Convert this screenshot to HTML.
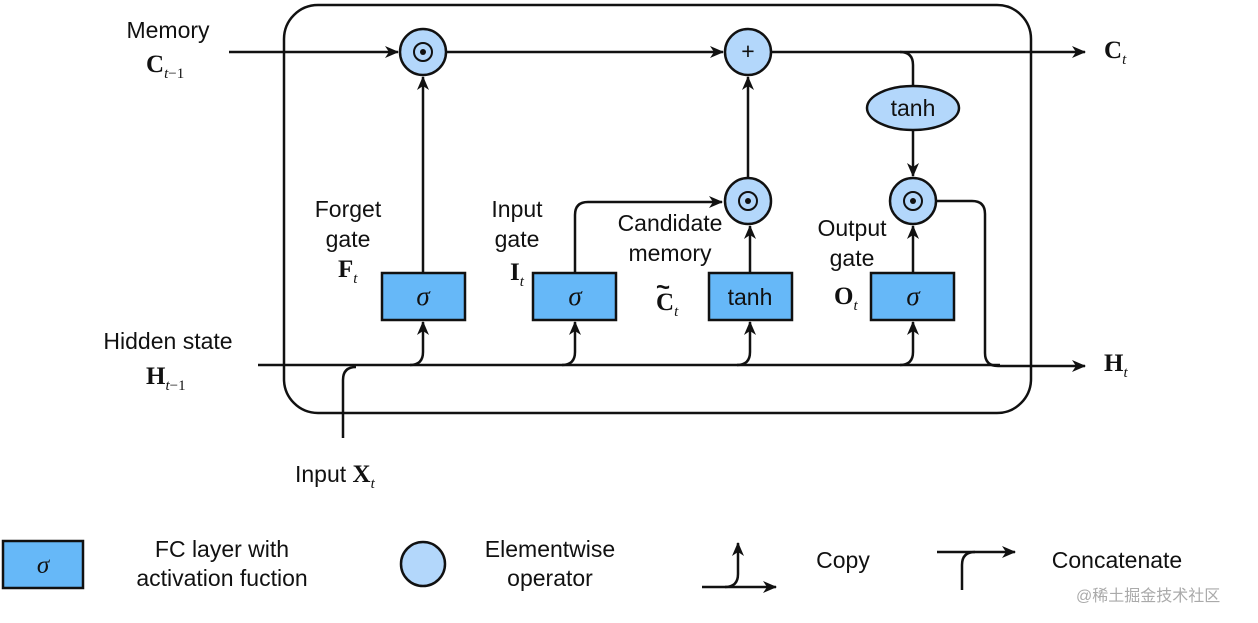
<!DOCTYPE html>
<html><head><meta charset="utf-8"><style>
html,body{margin:0;padding:0;background:#fff;}
svg{display:block;}
text{font-family:"Liberation Sans",sans-serif;fill:#111;}
.b{font-family:"Liberation Serif",serif;font-weight:bold;}
.i{font-family:"Liberation Serif",serif;font-style:italic;font-weight:normal;}
</style></head><body>
<svg width="1258" height="623" viewBox="0 0 1258 623" xmlns="http://www.w3.org/2000/svg">
<defs>
<marker id="a" markerWidth="14" markerHeight="12" refX="13" refY="6" orient="auto" markerUnits="userSpaceOnUse">
<path d="M0,0 L14,6 L0,12 L4,6 Z" fill="#111"/></marker>
</defs>
<g fill="none" stroke="#111" stroke-width="2.5">
<rect x="284" y="5" width="747" height="408" rx="34"/>
<path d="M229,52 H398" marker-end="url(#a)"/>
<path d="M446,52 H723" marker-end="url(#a)"/>
<path d="M771,52 H1085" marker-end="url(#a)"/>
<path d="M900,52 Q913,52 913,65 V86"/>
<path d="M913,130 V176" marker-end="url(#a)"/>
<path d="M423,273 V77" marker-end="url(#a)"/>
<path d="M575,273 V215 Q575,202 588,202 H722" marker-end="url(#a)"/>
<path d="M750,273 V226" marker-end="url(#a)"/>
<path d="M748,178 V77" marker-end="url(#a)"/>
<path d="M913,273 V226" marker-end="url(#a)"/>
<path d="M258,365 H1000"/>
<path d="M343,438 V380 Q343,367 356,367"/>
<path d="M410,365 Q423,365 423,352 V322" marker-end="url(#a)"/>
<path d="M562,365 Q575,365 575,352 V322" marker-end="url(#a)"/>
<path d="M737,365 Q750,365 750,352 V322" marker-end="url(#a)"/>
<path d="M900,365 Q913,365 913,352 V322" marker-end="url(#a)"/>
<path d="M937,201 H972 Q985,201 985,214 V353 Q985,366 998,366 H1085" marker-end="url(#a)"/>
<path d="M702,587 H776" marker-end="url(#a)"/>
<path d="M725,587 Q738,587 738,574 V543" marker-end="url(#a)"/>
<path d="M937,552 H1015" marker-end="url(#a)"/>
<path d="M975,552 Q962,552 962,565 V590"/>
</g>
<g stroke="#111" stroke-width="2.5" fill="#b3d7fb">
<circle cx="423" cy="52" r="23"/>
<circle cx="748" cy="52" r="23"/>
<circle cx="748" cy="201" r="23"/>
<circle cx="913" cy="201" r="23"/>
<ellipse cx="913" cy="108" rx="46" ry="22"/>
<circle cx="423" cy="564" r="22" />
</g>
<g fill="#111">
<circle cx="423" cy="52" r="3"/><circle cx="748" cy="201" r="3"/><circle cx="913" cy="201" r="3"/>
</g>
<g fill="none" stroke="#111" stroke-width="2">
<circle cx="423" cy="52" r="9"/><circle cx="748" cy="201" r="9"/><circle cx="913" cy="201" r="9"/>
</g>
<g stroke="#111" stroke-width="2.5" fill="#66b8f8">
<rect x="382" y="273" width="83" height="47"/>
<rect x="533" y="273" width="83" height="47"/>
<rect x="709" y="273" width="83" height="47"/>
<rect x="871" y="273" width="83" height="47"/>
<rect x="3" y="541" width="80" height="47"/>
</g>
<g font-size="23" text-anchor="middle">
<text x="748" y="59">+</text>
<text x="423" y="305" class="i" font-size="27">σ</text>
<text x="575" y="305" class="i" font-size="27">σ</text>
<text x="750" y="305">tanh</text>
<text x="913" y="305" class="i" font-size="27">σ</text>
<text x="43" y="573" class="i" font-size="25">σ</text>
<text x="913" y="116">tanh</text>
<text x="168" y="38">Memory</text>
<text x="348" y="217">Forget</text><text x="348" y="247">gate</text>
<text x="517" y="217">Input</text><text x="517" y="247">gate</text>
<text x="670" y="231">Candidate</text><text x="670" y="261">memory</text>
<text x="852" y="236">Output</text><text x="852" y="266">gate</text>
<text x="168" y="349">Hidden state</text>
<text x="222" y="557">FC layer with</text><text x="222" y="586">activation fuction</text>
<text x="550" y="557">Elementwise</text><text x="550" y="586">operator</text>
<text x="843" y="568">Copy</text>
<text x="1117" y="568">Concatenate</text>
</g>
<g font-size="25" class="b">
<text x="146" y="72" class="b">C<tspan class="i" font-size="15" dy="6">t</tspan><tspan font-size="15" font-weight="normal">−1</tspan></text>
<text x="338" y="277" class="b">F<tspan class="i" font-size="15" dy="6">t</tspan></text>
<text x="510" y="280" class="b">I<tspan class="i" font-size="15" dy="6">t</tspan></text>
<text x="656" y="310" class="b">C<tspan class="i" font-size="15" dy="6">t</tspan></text>
<text x="656" y="295" font-size="24">~</text>
<text x="834" y="304" class="b">O<tspan class="i" font-size="15" dy="6">t</tspan></text>
<text x="146" y="384" class="b">H<tspan class="i" font-size="15" dy="6">t</tspan><tspan font-size="15" font-weight="normal">−1</tspan></text>
<text x="1104" y="58" class="b">C<tspan class="i" font-size="15" dy="6">t</tspan></text>
<text x="1104" y="371" class="b">H<tspan class="i" font-size="15" dy="6">t</tspan></text>
</g>
<text x="295" y="482" font-size="23">Input <tspan class="b" font-size="25">X</tspan><tspan class="i" font-size="15" dy="6">t</tspan></text>
<text x="1076" y="601" font-size="16" style="fill:#aaa;font-family:'Liberation Sans','Noto Sans CJK SC',sans-serif">@稀土掘金技术社区</text>
</svg>
</body></html>
